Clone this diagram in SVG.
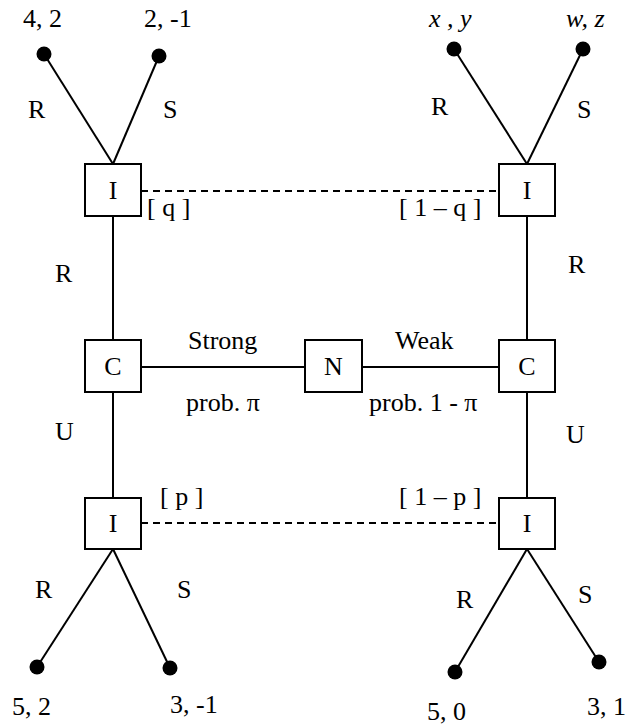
<svg xmlns="http://www.w3.org/2000/svg" width="626" height="725" viewBox="0 0 626 725">
<style>
text{font-family:"Liberation Serif","Times New Roman",serif;font-size:26px;fill:#000}
.c{text-anchor:middle}
.i{font-style:italic}
.box{fill:#fff;stroke:#000;stroke-width:2}
.ln{stroke:#000;stroke-width:2;fill:none}
.dash{stroke:#000;stroke-width:2;fill:none;stroke-dasharray:7,5}
.dot{fill:#000}
</style>
<rect width="626" height="725" fill="#fff"/>
<g id="connectors">
<line class="ln" x1="113" y1="164" x2="44" y2="54"/>
<line class="ln" x1="113" y1="164" x2="159" y2="56"/>
<line class="ln" x1="527" y1="164" x2="454" y2="49"/>
<line class="ln" x1="527" y1="164" x2="583" y2="49"/>
<line class="ln" x1="113" y1="216" x2="113" y2="340"/>
<line class="ln" x1="113" y1="392" x2="113" y2="498"/>
<line class="ln" x1="527" y1="216" x2="527" y2="340"/>
<line class="ln" x1="527" y1="392" x2="527" y2="498"/>
<line class="ln" x1="141" y1="367" x2="305" y2="367"/>
<line class="ln" x1="362" y1="367" x2="499" y2="367"/>
<line class="dash" x1="141" y1="191" x2="499" y2="191"/>
<line class="dash" x1="141" y1="523" x2="499" y2="523"/>
<line class="ln" x1="113" y1="549" x2="37" y2="667"/>
<line class="ln" x1="113" y1="549" x2="170" y2="668"/>
<line class="ln" x1="527" y1="549" x2="455" y2="672"/>
<line class="ln" x1="527" y1="549" x2="599" y2="662"/>
<circle class="dot" cx="44" cy="54" r="7.5"/>
<circle class="dot" cx="159" cy="56" r="7.5"/>
<circle class="dot" cx="454" cy="49" r="7.5"/>
<circle class="dot" cx="583" cy="49" r="7.5"/>
<circle class="dot" cx="37" cy="667" r="7.5"/>
<circle class="dot" cx="170" cy="668" r="7.5"/>
<circle class="dot" cx="455" cy="672" r="7.5"/>
<circle class="dot" cx="599" cy="662" r="7.5"/>
</g>
<g id="I_top_left"><rect class="box" x="85" y="164" width="56" height="52"/><text class="c" x="113" y="199">I</text></g>
<g id="I_top_right"><rect class="box" x="499" y="164" width="56" height="52"/><text class="c" x="527" y="199">I</text></g>
<g id="C_left"><rect class="box" x="85" y="340" width="56" height="52"/><text class="c" x="113" y="375">C</text></g>
<g id="N"><rect class="box" x="305" y="340" width="57" height="52"/><text class="c" x="333.5" y="375">N</text></g>
<g id="C_right"><rect class="box" x="499" y="340" width="56" height="52"/><text class="c" x="527" y="375">C</text></g>
<g id="I_bottom_left"><rect class="box" x="85" y="498" width="56" height="51"/><text class="c" x="113" y="532">I</text></g>
<g id="I_bottom_right"><rect class="box" x="499" y="498" width="56" height="51"/><text class="c" x="527" y="532">I</text></g>
<g id="labels">
<text x="23" y="27">4, 2</text>
<text x="144" y="27">2, -1</text>
<text class="i" x="429" y="27">x , y</text>
<text class="i" x="566" y="27">w, z</text>
<text x="28" y="118">R</text>
<text x="163" y="118">S</text>
<text x="431" y="115">R</text>
<text x="577" y="118">S</text>
<text x="147" y="216">[ q ]</text>
<text x="399" y="216">[ 1 – q ]</text>
<text x="55" y="282">R</text>
<text x="55" y="440">U</text>
<text x="568" y="273">R</text>
<text x="566" y="443">U</text>
<text x="188" y="349">Strong</text>
<text x="395" y="349">Weak</text>
<text x="186" y="411">prob. π</text>
<text x="369" y="411">prob. 1 - π</text>
<text x="160" y="505">[ p ]</text>
<text x="399" y="505">[ 1 – p ]</text>
<text x="35" y="598">R</text>
<text x="177" y="598">S</text>
<text x="456" y="608">R</text>
<text x="578" y="603">S</text>
<text x="12" y="715">5, 2</text>
<text x="170" y="713">3, -1</text>
<text x="427" y="720">5, 0</text>
<text x="587" y="715">3, 1</text>
</g>
</svg>
